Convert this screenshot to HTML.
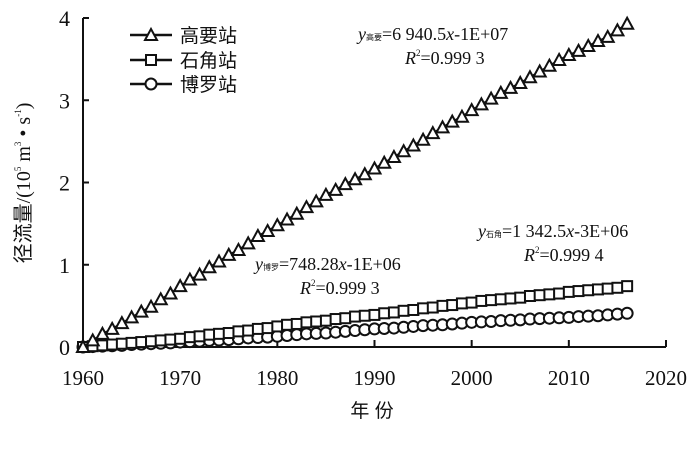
<!DOCTYPE html>
<html><head><meta charset="utf-8"><style>
body{margin:0;background:#fff}
svg{display:block}
text{font-family:"Liberation Serif","Noto Serif CJK SC",serif;fill:#111}
.cjk{font-family:"Liberation Sans","Noto Sans CJK SC",sans-serif}
</style></head><body>
<svg id="chart" width="700" height="456" xmlns="http://www.w3.org/2000/svg">
<g id="axes"></g>
<g id="series"></g>
<g>
 <g>
  <line x1="130" y1="35" x2="172" y2="35" stroke="#111" stroke-width="2.5"/>
  <polygon points="151,29 157,40 145,40" fill="#fff" stroke="#111" stroke-width="2"/>
  <text class="cjk" x="180" y="42" font-size="19">高要站</text></g>
 <g>
  <line x1="130" y1="60" x2="172" y2="60" stroke="#111" stroke-width="2.5"/>
  <rect x="146" y="55" width="10" height="10" fill="#fff" stroke="#111" stroke-width="2"/>
  <text class="cjk" x="180" y="67" font-size="19">石角站</text></g>
 <g>
  <line x1="130" y1="84" x2="172" y2="84" stroke="#111" stroke-width="2.5"/>
  <circle cx="151" cy="84" r="5.5" fill="#fff" stroke="#111" stroke-width="2"/>
  <text class="cjk" x="180" y="91" font-size="19">博罗站</text></g>
</g>
<g font-size="18">
 <text x="358" y="40"><tspan font-style="italic">y</tspan><tspan class="cjk" font-size="8">高要</tspan>=6 940.5<tspan font-style="italic">x</tspan>-1E+07</text>
 <text x="405" y="64"><tspan font-style="italic">R</tspan><tspan font-size="9" dy="-8">2</tspan><tspan dy="8">=0.999 3</tspan></text>
</g>
<g font-size="18">
 <text x="478" y="237"><tspan font-style="italic">y</tspan><tspan class="cjk" font-size="8">石角</tspan>=1 342.5<tspan font-style="italic">x</tspan>-3E+06</text>
 <text x="524" y="261"><tspan font-style="italic">R</tspan><tspan font-size="9" dy="-8">2</tspan><tspan dy="8">=0.999 4</tspan></text>
</g>
<g font-size="18">
 <text x="255" y="270"><tspan font-style="italic">y</tspan><tspan class="cjk" font-size="8">博罗</tspan>=748.28<tspan font-style="italic">x</tspan>-1E+06</text>
 <text x="300" y="294"><tspan font-style="italic">R</tspan><tspan font-size="9" dy="-8">2</tspan><tspan dy="8">=0.999 3</tspan></text>
</g>
<text transform="translate(30,183) rotate(-90)" text-anchor="middle" font-size="20"><tspan class="cjk">径流量</tspan>/(10<tspan font-size="9" dy="-9">5</tspan><tspan dy="9"> m</tspan><tspan font-size="9" dy="-9">3</tspan><tspan dy="9"> • s</tspan><tspan font-size="9" dy="-9">-1</tspan><tspan dy="9">)</tspan></text>
<text class="cjk" x="372" y="417" text-anchor="middle" font-size="19">年 份</text>
</svg>
<script>
const years=[];for(let y=1960;y<=2016;y++)years.push(y);
const gaoyao=[0.0,0.08,0.16,0.22,0.29,0.36,0.43,0.49,0.58,0.65,0.74,0.82,0.88,0.97,1.04,1.12,1.18,1.26,1.35,1.41,1.48,1.55,1.62,1.70,1.77,1.85,1.91,1.98,2.04,2.10,2.17,2.24,2.31,2.38,2.45,2.52,2.60,2.67,2.74,2.80,2.88,2.95,3.02,3.09,3.15,3.21,3.28,3.35,3.42,3.49,3.55,3.60,3.66,3.72,3.77,3.85,3.93];
const shijiao=[0.0,0.01,0.02,0.03,0.04,0.05,0.06,0.07,0.08,0.09,0.10,0.12,0.13,0.15,0.16,0.17,0.19,0.20,0.22,0.23,0.25,0.27,0.28,0.30,0.31,0.32,0.34,0.35,0.37,0.38,0.39,0.41,0.42,0.44,0.45,0.47,0.48,0.50,0.51,0.53,0.54,0.56,0.57,0.58,0.59,0.60,0.62,0.63,0.64,0.65,0.67,0.68,0.69,0.70,0.71,0.72,0.74];
const boluo=[0.0,0.005,0.01,0.015,0.02,0.03,0.035,0.04,0.045,0.05,0.06,0.065,0.07,0.08,0.085,0.09,0.10,0.11,0.115,0.12,0.13,0.14,0.15,0.16,0.165,0.17,0.18,0.19,0.20,0.21,0.22,0.225,0.23,0.24,0.25,0.26,0.265,0.27,0.28,0.29,0.30,0.305,0.31,0.32,0.325,0.33,0.34,0.345,0.35,0.355,0.36,0.37,0.375,0.38,0.39,0.40,0.41];
const xTicks=[1960,1970,1980,1990,2000,2010,2020];
const yTicks=[0,1,2,3,4];
const NS="http://www.w3.org/2000/svg";
const X=v=>83+(v-1960)*(666-83)/60;
const Y=v=>347-v*(347-18)/4;
function mk(tag,at,parent){const e=document.createElementNS(NS,tag);for(const k in at)e.setAttribute(k,at[k]);parent.appendChild(e);return e;}
const ax=document.getElementById('axes');
let e=mk('line',{x1:83,y1:Y(4),x2:83,y2:347,stroke:'#111','stroke-width':2},ax);


e=mk('line',{x1:83,y1:347,x2:666,y2:347,stroke:'#111','stroke-width':2},ax);


yTicks.forEach(t=>{
 mk('line',{x1:83,y1:Y(t),x2:89,y2:Y(t),stroke:'#111','stroke-width':2},ax);
 const tx=mk('text',{x:70,y:Y(t)+8,'text-anchor':'end','font-size':22},ax);tx.textContent=t;
 
 
});
xTicks.forEach(t=>{
 mk('line',{x1:X(t),y1:347,x2:X(t),y2:340,stroke:'#111','stroke-width':2},ax);
 const tx=mk('text',{x:X(t),y:385,'text-anchor':'middle','font-size':21},ax);tx.textContent=t;
 
 
});
const sg=document.getElementById('series');
function series(vals,name,shape){
 const g=mk('g',{},sg);
 
 
 mk('polyline',{points:vals.map((v,i)=>X(years[i])+','+Y(v)).join(' '),fill:'none',stroke:'#111','stroke-width':2},g);
 vals.forEach((v,i)=>{
  const x=X(years[i]),y=Y(v);let m;
  if(shape==='tri')m=mk('polygon',{points:`${x},${y-6} ${x+6},${y+5} ${x-6},${y+5}`,fill:'#fff',stroke:'#111','stroke-width':2},g);
  else if(shape==='sq')m=mk('rect',{x:x-5,y:y-5,width:10,height:10,fill:'#fff',stroke:'#111','stroke-width':2},g);
  else m=mk('circle',{cx:x,cy:y,r:5.5,fill:'#fff',stroke:'#111','stroke-width':2},g);
  
  
 });
}
series(boluo,'boluo-series','circ');
series(shijiao,'shijiao-series','sq');
series(gaoyao,'gaoyao-series','tri');
</script>
</body></html>
